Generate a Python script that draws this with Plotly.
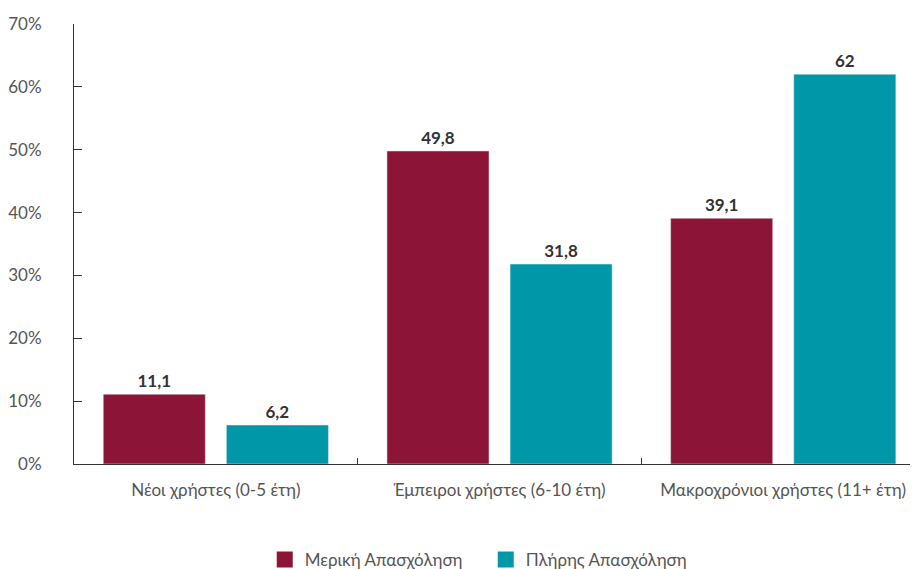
import plotly.graph_objects as go

categories = ["Νέοι χρήστες (0-5 έτη)", "Έμπειροι χρήστες (6-10 έτη)", "Μακροχρόνιοι χρήστες (11+ έτη)"]
series_names = ["Μερική Απασχόληση", "Πλήρης Απασχόληση"]
part_time = [11.1, 49.8, 39.1]
full_time = [6.2, 31.8, 62]
y_ticks = [0, 10, 20, 30, 40, 50, 60, 70]
y_tick_labels = [f"{v}%" for v in y_ticks]

colors = ["#8C1537", "#0097A8"]
FONT = "Lato, 'Noto Sans', sans-serif"

fig = go.Figure()
for name, vals, col in zip(series_names, [part_time, full_time], colors):
    fig.add_trace(go.Bar(
        name=name, x=categories, y=vals, marker_color=col,
        text=vals, texttemplate="<b>%{y}</b>", textposition="outside",
        textfont=dict(family=FONT, size=17, color="#333333"),
        cliponaxis=False, showlegend=False,
    ))
# legend entries with square swatches
for name, col in zip(series_names, colors):
    fig.add_trace(go.Scatter(
        name=name, x=[None], y=[None], mode="markers",
        marker=dict(symbol="square", size=17, color=col),
        showlegend=True,
    ))

fig.update_layout(
    width=910, height=561,
    margin=dict(l=66, r=0, t=16, b=105, autoexpand=False),
    paper_bgcolor="white", plot_bgcolor="white",
    barmode="group", bargap=0.132, bargroupgap=0.171,
    separators=",.",
    font=dict(family=FONT, size=17, color="#555555"),
    showlegend=True,
    legend=dict(orientation="h", x=0.226, xanchor="left", y=-0.218, yanchor="middle",
                font=dict(family=FONT, size=17, color="#555555"),
                traceorder="normal", itemwidth=30,
                entrywidth=176, entrywidthmode="pixels"),
)
fig.update_xaxes(
    range=[-0.5, 2.475], showline=True, linecolor="#333333", linewidth=1,
    ticks="inside", tickson="boundaries", ticklen=6, tickcolor="#333333",
    showgrid=False, automargin=False, ticklabelstandoff=11,
    tickfont=dict(family=FONT, size=17, color="#555555"),
)
fig.update_yaxes(
    range=[0, 70], tickvals=y_ticks, ticktext=y_tick_labels,
    showline=True, linecolor="#333333", linewidth=1,
    ticks="inside", ticklen=8, tickcolor="#333333",
    showgrid=False, zeroline=False, automargin=False, ticklabelstandoff=28,
    tickfont=dict(family=FONT, size=17, color="#555555"),
)

fig.write_html("out.html")
